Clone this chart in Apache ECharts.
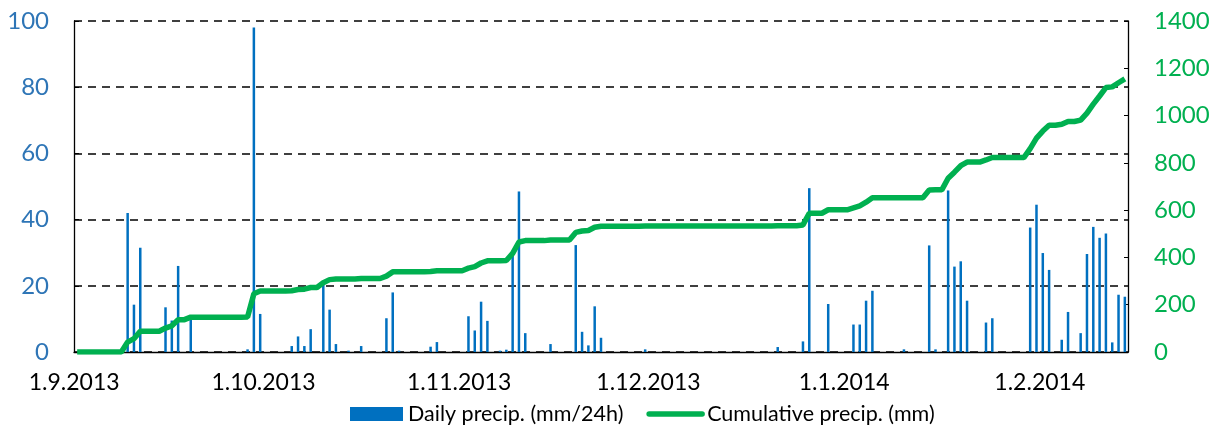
<!DOCTYPE html>
<html>
<head>
<meta charset="utf-8">
<script src="https://cdn.jsdelivr.net/npm/echarts@6/dist/echarts.min.js"></script>
<style>
  html, body { margin: 0; padding: 0; background: #fff; }
  #chart { width: 1215px; height: 432px; }
</style>
</head>
<body>
<div id="chart"></div>
<script>
// date range shown on the x axis (one category per day)
const firstDay = '2013-09-01'
const lastDay = '2014-02-14'

// days with precipitation and their amounts (mm/24h)
const rainDays = [
  '9.9.2013', '10.9.2013', '11.9.2013', '15.9.2013', '16.9.2013', '17.9.2013', '19.9.2013',
  '28.9.2013', '29.9.2013', '30.9.2013',
  '5.10.2013', '6.10.2013', '7.10.2013', '8.10.2013', '10.10.2013', '11.10.2013', '12.10.2013',
  '14.10.2013', '16.10.2013', '20.10.2013', '21.10.2013', '22.10.2013', '27.10.2013', '28.10.2013',
  '2.11.2013', '3.11.2013', '4.11.2013', '5.11.2013', '7.11.2013', '8.11.2013', '9.11.2013',
  '10.11.2013', '11.11.2013', '15.11.2013', '19.11.2013', '20.11.2013', '21.11.2013', '22.11.2013',
  '23.11.2013', '30.11.2013',
  '21.12.2013', '25.12.2013', '26.12.2013', '29.12.2013',
  '2.1.2014', '3.1.2014', '4.1.2014', '5.1.2014', '10.1.2014', '14.1.2014', '15.1.2014',
  '17.1.2014', '18.1.2014', '19.1.2014', '20.1.2014', '23.1.2014', '24.1.2014', '30.1.2014', '31.1.2014',
  '1.2.2014', '2.2.2014', '4.2.2014', '5.2.2014', '7.2.2014', '8.2.2014', '9.2.2014',
  '10.2.2014', '11.2.2014', '12.2.2014', '13.2.2014', '14.2.2014'
]
const rainMm = [
  42, 14.3, 31.5, 13.5, 9.5, 26, 10.5,
  0.8, 98, 11.5,
  1.8, 4.7, 1.8, 6.9, 20.5, 12.8, 2.4,
  0.4, 1.8, 10.2, 18, 0.4, 1.6, 3,
  10.8, 6.5, 15.2, 9.4, 0.4, 0.7, 30,
  48.5, 5.7, 2.4, 32.3, 6.1, 2, 13.8,
  4.3, 0.8,
  1.5, 3.2, 49.5, 14.5,
  8.3, 8.3, 15.5, 18.5, 0.8, 32.2, 0.8,
  48.8, 25.8, 27.4, 15.5, 8.9, 10.2, 37.6, 44.5,
  29.9, 24.8, 3.7, 12.1, 5.7, 29.6, 37.8,
  34.5, 35.8, 2.9, 17.3, 16.7
]

const dailyTicks = { min: 0, max: 100, interval: 20 }
const cumulTicks = { min: 0, max: 1400, interval: 200 }

const days = []
for (let t = Date.parse(firstDay); t <= Date.parse(lastDay); t += 86400000) {
  const d = new Date(t)
  days.push(d.getUTCDate() + '.' + (d.getUTCMonth() + 1) + '.' + d.getUTCFullYear())
}
const daily = days.map((d) => {
  const i = rainDays.indexOf(d)
  return i < 0 ? 0 : rainMm[i]
})
let sum = 0
const cumulative = daily.map((v) => +(sum += v).toFixed(1))

const isMonthStart = (i, v) => v.startsWith('1.')
const font = 'Lato, "Open Sans", sans-serif'

const chart = echarts.init(document.getElementById('chart'))
chart.setOption({
  animation: false,
  grid: { left: 74, right: 87, top: 21, bottom: 80, containLabel: false },
  legend: {
    bottom: 2,
    left: 345,
    itemWidth: 53,
    itemHeight: 14,
    itemGap: 23,
    textStyle: { color: '#000', fontSize: 21.5, fontFamily: font },
    data: [
      { name: 'Daily precip. (mm/24h)', icon: 'rect' },
      {
        name: 'Cumulative precip. (mm)',
        itemStyle: { opacity: 0 },
        lineStyle: { width: 5.5, cap: 'round' },
      },
    ],
  },
  xAxis: {
    type: 'category',
    data: days,
    boundaryGap: true,
    axisLine: { lineStyle: { color: '#000', width: 1.3 } },
    axisTick: { interval: isMonthStart, length: 8, lineStyle: { color: '#000', width: 1.3 } },
    axisLabel: {
      interval: isMonthStart,
      color: '#000',
      fontSize: 23,
      fontFamily: font,
      margin: 19,
      padding: [0, 6, 0, 0],
    },
  },
  yAxis: [
    {
      type: 'value',
      ...dailyTicks,
      position: 'left',
      axisLine: { show: true, lineStyle: { color: '#000', width: 1.3 } },
      axisTick: { show: true, inside: true, length: 5, lineStyle: { color: '#000' } },
      axisLabel: { color: '#2E75B6', fontSize: 24, fontFamily: font, margin: 25 },
      splitLine: { show: true, lineStyle: { color: '#000', type: [8, 6], width: 1.5 } },
    },
    {
      type: 'value',
      ...cumulTicks,
      position: 'right',
      axisLine: { show: true, lineStyle: { color: '#000', width: 1.3 } },
      axisTick: { show: true, inside: true, length: 4, lineStyle: { color: '#000' } },
      axisLabel: { color: '#00B050', fontSize: 24, fontFamily: font, margin: 26, formatter: (v) => String(v) },
      splitLine: { show: false },
    },
  ],
  series: [
    {
      name: 'Daily precip. (mm/24h)',
      type: 'bar',
      data: daily,
      barWidth: 2.5,
      itemStyle: { color: '#0070C0' },
    },
    {
      name: 'Cumulative precip. (mm)',
      type: 'line',
      yAxisIndex: 1,
      data: cumulative,
      symbol: 'none',
      lineStyle: { color: '#00B050', width: 5.5 },
      itemStyle: { color: '#00B050' },
    },
  ],
})
window.addEventListener('resize', () => chart.resize())
</script>
</body>
</html>
